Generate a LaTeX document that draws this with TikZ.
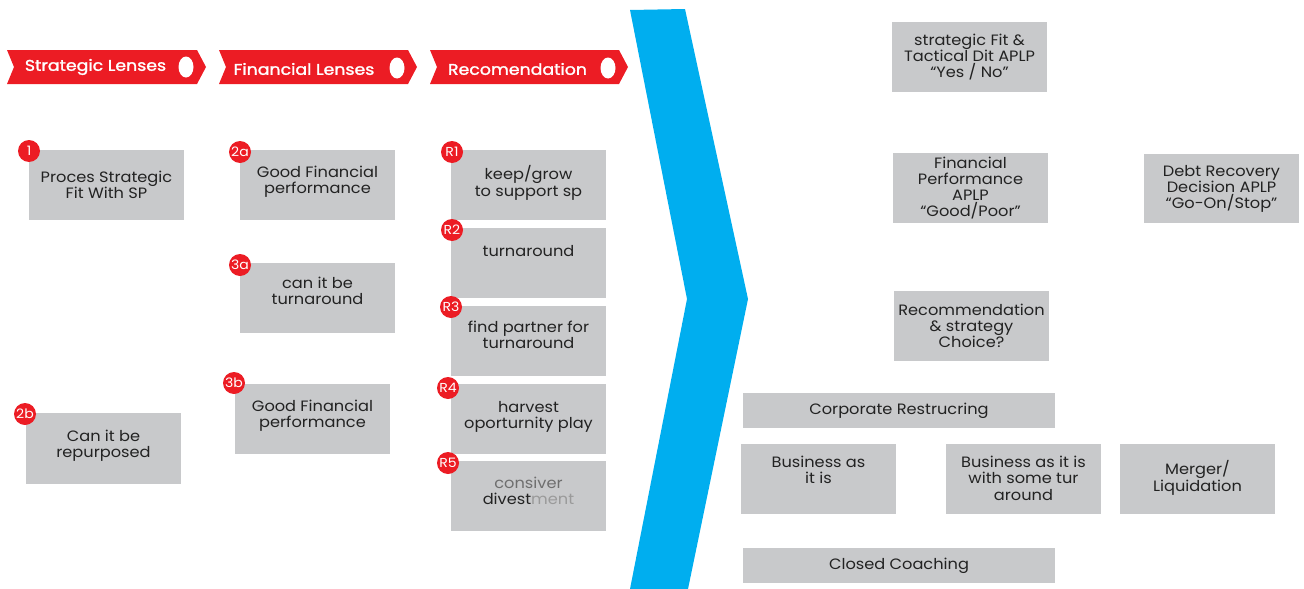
\documentclass[tikz,border=0pt]{standalone}
\usepackage{fontspec}
\setmainfont{Poppins}[FakeStretch=1.08]
\newfontfamily\ribfont{Poppins}[FakeStretch=1.12, FakeBold=1.6]
\usetikzlibrary{calc}
\definecolor{rred}{HTML}{EC1C24}
\definecolor{cblue}{HTML}{00AEEF}
\definecolor{boxgray}{HTML}{C8C9CB}
\definecolor{txtgray}{HTML}{222222}
\definecolor{fadegray}{HTML}{6E6E6E}
\definecolor{lightfade}{HTML}{9A9A9A}
\begin{document}
\begin{tikzpicture}[x=1pt,y=-1pt,
  gbox/.style={fill=boxgray, inner sep=0pt, outer sep=0pt, minimum width=155pt, minimum height=70pt, anchor=north west},
  wbox/.style={gbox, minimum width=312pt, minimum height=35pt},
  txt/.style={font=\fontsize{15}{16.5}\selectfont, text=txtgray, align=center, inner sep=0pt},
  ctxt/.style={gbox, font=\fontsize{15}{16}\selectfont, text=txtgray, align=center},
  badge/.style={circle, fill=rred, minimum size=22pt, inner sep=0pt, text=white, font=\fontsize{13}{13}\selectfont},
  ribtxt/.style={text=white, font=\ribfont\fontsize{15.5}{16}\selectfont, inner sep=0pt},
  ribbon/.style={fill=rred}
]
\useasboundingbox (0,0) rectangle (1304,589);

% ribbons
\fill[ribbon] (7,50) -- (197,50) -- (206,67) -- (197,84) -- (7,84) -- (14,67) -- cycle;
\fill[ribbon] (219,50) -- (408,50) -- (417,67) -- (408,84) -- (219,84) -- (226,67) -- cycle;
\fill[ribbon] (430,50) -- (619,50) -- (628,67) -- (619,84) -- (430,84) -- (437,67) -- cycle;
\node[ribtxt] (rt1) at (95.5,67) {Strategic Lenses};
\node[ribtxt] (rt2) at (304,69) {Financial Lenses};
\node[ribtxt] (rt3) at (517.5,69) {Recomendation};
\fill[white] (186,67) ellipse [x radius=7.5pt, y radius=10.5pt];
\fill[white] (397,68) ellipse [x radius=7.5pt, y radius=10.5pt];
\fill[white] (608,68) ellipse [x radius=7.5pt, y radius=10.5pt];

% blue chevron
\fill[cblue] (630,10) -- (685,9) -- (748,299) -- (688,589) -- (630,589) -- (687,299) -- cycle;

% column 1
\node[gbox] (b1) at (29,150) {};
\node[txt, anchor=north] (b1t) at ($(b1.north)+(0,20.6)$) {\strut Proces Strategic\\Fit With SP};
\node[gbox, minimum height=71pt] (b2b) at (26,413) {};
\node[txt, anchor=north] (b2bt) at ($(b2b.north)+(0,16.6)$) {\strut Can it be\\repurposed};

% column 2
\node[gbox] (b2a) at (240,150) {};
\node[txt, anchor=north] (b2at) at ($(b2a.north)+(0,15.6)$) {\strut Good Financial\\performance};
\node[gbox] (b3a) at (240,263) {};
\node[txt, anchor=north] (b3at) at ($(b3a.north)+(0,13.6)$) {\strut can it be\\turnaround};
\node[gbox] (b3b) at (235,384) {};
\node[txt, anchor=north] (b3bt) at ($(b3b.north)+(0,15.6)$) {\strut Good Financial\\performance};

% column 3
\node[gbox] (r1) at (451,150) {};
\node[txt, anchor=north] (r1t) at ($(r1.north)+(0,15.6)$) {\strut keep/grow\\to support sp};
\node[gbox] (r2) at (451,228) {};
\node[txt, anchor=north] (r2t) at ($(r2.north)+(0,16.6)$) {\strut turnaround};
\node[gbox] (r3) at (451,306) {};
\node[txt, anchor=north] (r3t) at ($(r3.north)+(0,14.6)$) {\strut find partner for\\turnaround};
\node[gbox] (r4) at (451,384) {};
\node[txt, anchor=north] (r4t) at ($(r4.north)+(0,16.6)$) {\strut harvest\\oporturnity play};
\node[gbox] (r5) at (451,461) {};
\node[txt, anchor=north] (r5t) at ($(r5.north)+(0,15.6)$) {\strut\textcolor{fadegray}{consiver}\\divest\textcolor{lightfade}{ment}};

% badges
\node[badge] (n1) at (29,151) {1};
\node[badge] (n2a) at (240,152) {2a};
\node[badge] (n3a) at (240,265) {3a};
\node[badge] (n3b) at (234,383) {3b};
\node[badge] (n2b) at (25,414) {2b};
\node[badge] (nr1) at (452,152) {R1};
\node[badge] (nr2) at (452,230) {R2};
\node[badge] (nr3) at (451,307) {R3};
\node[badge] (nr4) at (448,388) {R4};
\node[badge] (nr5) at (448,463) {R5};

% right side
\node[ctxt] (s1) at (892,22) {strategic Fit \&\\Tactical Dit APLP\\“Yes / No”};
\node[ctxt] (s2) at (893,153) {Financial\\Performance\\APLP\\“Good/Poor”};
\node[ctxt, minimum height=69pt] (s3) at (1144,154) {Debt Recovery\\Decision APLP\\“Go-On/Stop”};
\node[ctxt] (s4) at (894,291) {Recommendation\\\& strategy\\Choice?};
\node[ctxt, wbox] (corp) at (743,393) {Corporate Restrucring};
\node[gbox] (bai) at (741,444) {};
\node[txt, anchor=north] (bait) at ($(bai.north)+(0,11.6)$) {\strut Business as\\it is};
\node[gbox] (bais) at (946,444) {};
\node[txt, anchor=north] (baist) at ($(bais.north)+(0,11.6)$) {\strut Business as it is\\with some tur\\around};
\node[gbox] (merg) at (1120,444) {};
\node[txt, anchor=north] (mergt) at ($(merg.north)+(0,16.6)$) {\strut Merger/\\Liquidation};
\node[ctxt, wbox] (cc) at (743,548) {Closed Coaching};
\end{tikzpicture}
\end{document}
